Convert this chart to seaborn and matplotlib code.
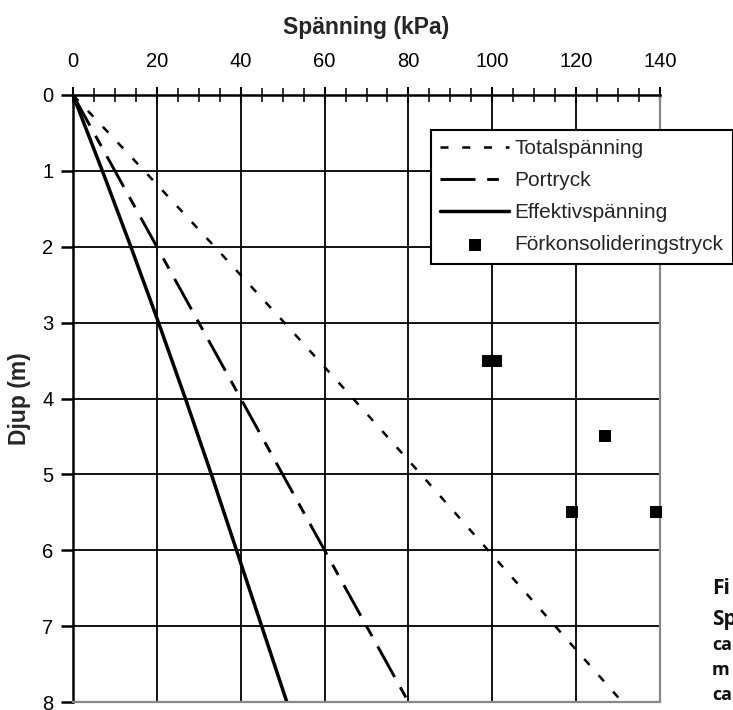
import matplotlib
matplotlib.use("Agg")
import matplotlib.pyplot as plt
import seaborn as sns
import pandas as pd
from matplotlib.ticker import MultipleLocator
from matplotlib.transforms import IdentityTransform

sns.set_theme(style="white")
plt.rcParams['font.family'] = ['Liberation Sans', 'DejaVu Sans']

# Data
depth = [0, 1, 2, 3, 4, 5, 6, 7, 8]
effective_stress = [0, 7, 13.8, 20.4, 26.8, 33, 39, 45, 51]
pore_pressure = [0, 10, 20, 30, 40, 50, 60, 70, 80]
total_stress = [0, 17, 33.8, 50.4, 66.8, 83, 99, 115, 131]
precons_depth = [3.5, 3.5, 4.5, 5.5, 5.5]
precons_stress = [99, 101, 127, 119, 139]

fig = plt.figure(figsize=(7.33, 7.10), dpi=100)
ax = fig.add_axes([73/733, 1-702/710, (660-73)/733, (702-95)/710])

lines_df = pd.DataFrame({"depth": depth, "Totalspänning": total_stress,
                         "Portryck": pore_pressure, "Effektivspänning": effective_stress})
pts_df = pd.DataFrame({"depth": precons_depth, "stress": precons_stress})

sns.lineplot(data=lines_df, x="Totalspänning", y="depth", ax=ax, color="black", lw=1.8,
             linestyle=(0, (3.2, 5.5)), label="Totalspänning", sort=False, estimator=None)
sns.lineplot(data=lines_df, x="Portryck", y="depth", ax=ax, color="black", lw=2.1,
             linestyle=(0, (12, 4, 4, 4)), label="Portryck", sort=False, estimator=None)
sns.lineplot(data=lines_df, x="Effektivspänning", y="depth", ax=ax, color="black", lw=2.5,
             linestyle="-", label="Effektivspänning", sort=False, estimator=None)
sns.scatterplot(data=pts_df, x="stress", y="depth", ax=ax, color="black", marker="s",
                s=85, edgecolor="black", linewidth=0, label="Förkonsolideringstryck",
                zorder=5, clip_on=False)

ax.set_xlim(0, 140)
ax.set_ylim(8, 0)
ax.xaxis.set_major_locator(MultipleLocator(20))
ax.xaxis.set_minor_locator(MultipleLocator(5))
ax.yaxis.set_major_locator(MultipleLocator(1))
ax.xaxis.tick_top()
ax.xaxis.set_label_position("top")
ax.grid(True, which="major", color="black", lw=1.3)
ax.set_axisbelow(True)

ax.tick_params(axis="x", which="major", direction="inout", length=12, width=1.5,
               labelsize=14.5, pad=11, colors="black", top=True, bottom=False)
ax.tick_params(axis="x", which="minor", direction="inout", length=10, width=1.3,
               top=True, bottom=False)
ax.tick_params(axis="y", which="major", direction="out", length=9, width=1.8,
               labelsize=14.5, pad=5, left=True, colors="black")

for side in ["top", "left"]:
    ax.spines[side].set_color("black")
    ax.spines[side].set_linewidth(1.8)
for side in ["right", "bottom"]:
    ax.spines[side].set_color("#888888")
    ax.spines[side].set_linewidth(1.6)

ax.set_xlabel("Spänning (kPa)", fontsize=16.5, fontweight="bold", labelpad=13)
ax.set_ylabel("Djup (m)", fontsize=16.5, fontweight="bold", labelpad=8)

leg = ax.legend(loc="upper left", frameon=True, fancybox=False,
                edgecolor="black", fontsize=15, handlelength=3.3, handletextpad=0.25,
                borderpad=0.45, labelspacing=0.62, framealpha=1, borderaxespad=0)
leg.get_frame().set_linewidth(1.5)
leg.set_bbox_to_anchor((431, 710 - 130), transform=IdentityTransform())

caption = ["Fi", "Sp", "ca", "m", "ca"]
ys = [588, 619, 645, 670, 695]
sizes = [15, 15, 13, 13, 13]
for t, y, s in zip(caption, ys, sizes):
    fig.text(712/733, 1 - y/710, t, fontsize=s, fontweight="bold", family="Open Sans",
             va="center", ha="left", color="#111111")

fig.savefig("out.png", dpi=100)
